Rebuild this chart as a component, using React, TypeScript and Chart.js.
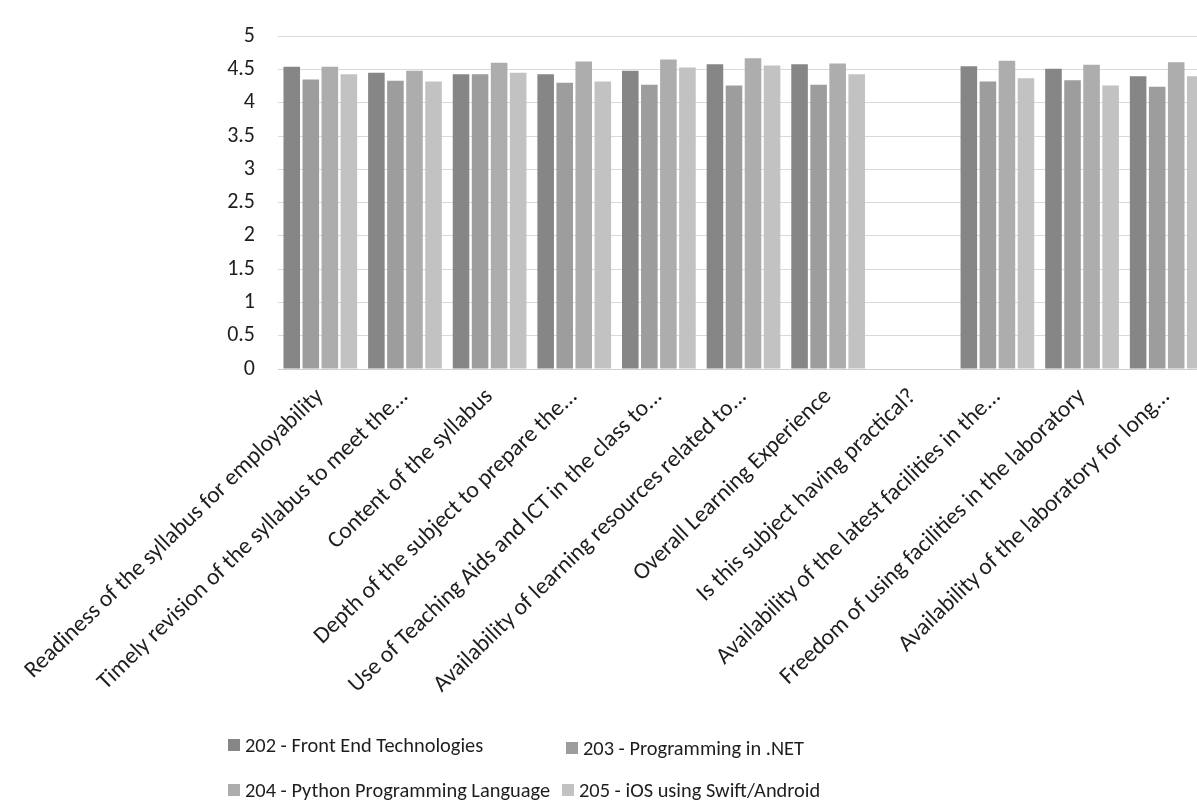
import React, { useEffect, useRef } from "react";
import { Chart, registerables } from "chart.js";

Chart.register(...registerables);

const categories: string[] = [
  "Readiness of the syllabus for employability",
  "Timely revision of the syllabus to meet the...",
  "Content of the syllabus",
  "Depth of the subject to prepare the...",
  "Use of Teaching Aids and ICT in the class to...",
  "Availability of learning resources related to...",
  "Overall Learning Experience",
  "Is this subject having practical?",
  "Availability of the latest facilities in the...",
  "Freedom of using facilities in the laboratory",
  "Availability of the laboratory for long...",
];

const seriesNames: string[] = [
  "202 - Front End Technologies",
  "203 - Programming in .NET",
  "204 - Python Programming Language",
  "205 - iOS using Swift/Android",
];

const s202: (number | null)[] = [4.54, 4.45, 4.43, 4.43, 4.48, 4.58, 4.58, null, 4.55, 4.51, 4.4];
const s203: (number | null)[] = [4.35, 4.33, 4.43, 4.3, 4.27, 4.26, 4.27, null, 4.32, 4.34, 4.24];
const s204: (number | null)[] = [4.54, 4.48, 4.6, 4.62, 4.65, 4.67, 4.59, null, 4.63, 4.57, 4.61];
const s205: (number | null)[] = [4.43, 4.32, 4.45, 4.32, 4.53, 4.56, 4.43, null, 4.37, 4.26, 4.4];

const yMin = 0;
const yMax = 5;
const yStep = 0.5;

const seriesColors: string[] = ["#868686", "#9d9d9d", "#adadad", "#c2c2c2"];

const FONT = "Carlito, Lato, 'Noto Sans', sans-serif";
const TEXT = "#1e1e1e";

export default function App() {
  const canvasRef = useRef<HTMLCanvasElement | null>(null);

  useEffect(() => {
    const canvas = canvasRef.current;
    if (!canvas) return;
    const values = [s202, s203, s204, s205];
    const chart = new Chart(canvas, {
      type: "bar",
      data: {
        labels: categories,
        datasets: seriesNames.map((name, i) => ({
          label: name,
          data: values[i],
          backgroundColor: seriesColors[i],
          borderWidth: 0,
          categoryPercentage: 0.9,
          barPercentage: 0.87,
        })),
      },
      options: {
        responsive: false,
        animation: false,
        devicePixelRatio: 1,
        layout: { padding: { top: 25, right: 7, bottom: 0, left: 0 } },
        plugins: {
          legend: { display: false },
          tooltip: { enabled: false },
          title: { display: false },
        },
        scales: {
          x: {
            grid: { display: false },
            border: { display: true, color: "#cfcfcf", width: 1 },
            ticks: {
              autoSkip: false,
              maxRotation: 44,
              minRotation: 44,
              padding: 6,
              color: TEXT,
              font: { family: FONT, size: 23.5 },
            },
            afterFit: (scale: any) => {
              scale.height = 811 - 369;
            },
          },
          y: {
            min: yMin,
            max: yMax,
            ticks: {
              stepSize: yStep,
              padding: 23,
              color: TEXT,
              font: { family: FONT, size: 22 },
              callback: (v: any) => String(Number(v)),
            },
            grid: { color: "#d9d9d9", lineWidth: 1, drawTicks: false },
            border: { display: false },
            afterFit: (scale: any) => {
              scale.width = 278;
            },
          },
        },
      },
    });
    return () => chart.destroy();
  }, []);

  const legendPos = [
    { left: 228, top: 745 },
    { left: 566, top: 748 },
    { left: 228, top: 790 },
    { left: 562, top: 790 },
  ];

  return (
    <div
      style={{
        position: "fixed",
        left: 0,
        top: 0,
        width: 1197,
        height: 811,
        overflow: "hidden",
        background: "#ffffff",
      }}
    >
      <canvas
        ref={canvasRef}
        width={1216}
        height={811}
        style={{ width: 1216, height: 811, display: "block" }}
      />
      {seriesNames.map((name, i) => (
        <div
          key={name}
          style={{
            position: "absolute",
            left: legendPos[i].left,
            top: legendPos[i].top,
            transform: "translateY(-50%)",
            display: "flex",
            alignItems: "center",
            fontFamily: FONT,
            fontSize: 20.4,
            color: TEXT,
            whiteSpace: "nowrap",
          }}
        >
          <span
            style={{
              display: "inline-block",
              width: 12,
              height: 12,
              background: seriesColors[i],
              marginRight: 5,
            }}
          />
          <span>{name}</span>
        </div>
      ))}
    </div>
  );
}
